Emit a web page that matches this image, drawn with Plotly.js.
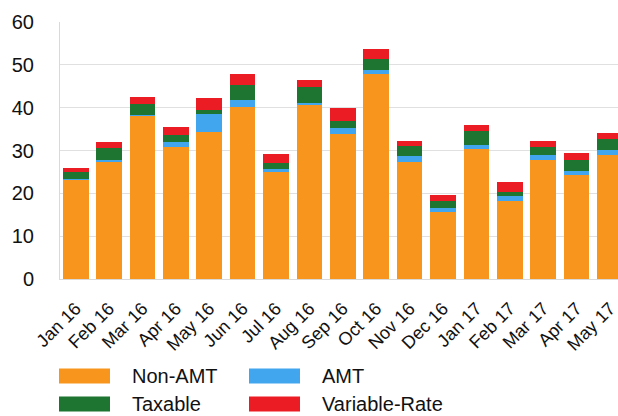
<!DOCTYPE html>
<html>
<head>
<meta charset="utf-8">
<script src="https://cdn.plot.ly/plotly-3.0.1.min.js"></script>
<style>
  html, body { margin: 0; padding: 0; background: #ffffff; }
  #chart { width: 618px; height: 416px; }
</style>
</head>
<body>
<div id="chart"></div>
<script>
// ---- Data ----
const months = ["Jan 16", "Feb 16", "Mar 16", "Apr 16", "May 16", "Jun 16", "Jul 16", "Aug 16",
                "Sep 16", "Oct 16", "Nov 16", "Dec 16", "Jan 17", "Feb 17", "Mar 17", "Apr 17", "May 17"];
const nonAMT       = [23.2, 27.3, 38.0, 30.9, 34.3, 40.1, 25.0, 40.6, 33.9, 47.9, 27.3, 15.7, 30.4, 18.1, 27.7, 24.3, 28.9];
const amt          = [0.2, 0.4, 0.4, 1.1, 4.2, 1.7, 0.7, 0.4, 1.3, 0.8, 1.4, 0.8, 1.0, 1.3, 1.2, 1.0, 1.2];
const taxable      = [1.5, 2.8, 2.45, 1.65, 1.0, 3.6, 1.4, 3.8, 1.7, 2.7, 2.4, 1.7, 3.2, 1.0, 2.0, 2.4, 2.7];
const variableRate = [1.0, 1.4, 1.65, 1.95, 2.7, 2.5, 2.1, 1.7, 3.0, 2.4, 1.1, 1.4, 1.3, 2.3, 1.3, 1.8, 1.3];
const seriesNames  = ["Non-AMT", "AMT", "Taxable", "Variable-Rate"];
const yTicks = [0, 10, 20, 30, 40, 50, 60];

// ---- Styles ----
const colors = ["#F8951D", "#41A6EE", "#1D7531", "#EC1C24"];
const FONT = "Liberation Sans, Arial, sans-serif";
const seriesValues = [nonAMT, amt, taxable, variableRate];

const traces = seriesValues.map((vals, i) => ({
  type: "bar",
  name: seriesNames[i],
  x: months,
  y: vals,
  marker: { color: colors[i], line: { width: 0 } },
  hoverinfo: "x+y+name",
  showlegend: false
}));

// plot area geometry in pixels (for the manual legend placement)
const W = 618, H = 416, L = 60, R = 0, T = 22, B = 137;
const pw = W - L - R, ph = H - T - B;
const px = v => (v - L) / pw;
const py = v => (H - B - v) / ph;

// legend layout: [col x of swatch, row y center]
const legendPos = [[59, 376], [249, 376], [59, 404], [249, 404]];
const legendOrder = [0, 1, 2, 3]; // Non-AMT, AMT, Taxable, Variable-Rate
const shapes = [];
const annotations = [];
legendOrder.forEach((si, k) => {
  const [sx, sy] = legendPos[k];
  shapes.push({
    type: "rect", xref: "paper", yref: "paper",
    x0: px(sx), x1: px(sx + 51), y0: py(sy - 7.5), y1: py(sy + 7.5),
    fillcolor: colors[si], line: { width: 0 }
  });
  annotations.push({
    xref: "paper", yref: "paper", x: px(sx + 71), y: py(sy),
    xanchor: "left", yanchor: "middle", showarrow: false,
    text: seriesNames[si],
    font: { family: FONT, size: 20, color: "#111111" }
  });
});

const layout = {
  width: W, height: H,
  margin: { l: L, r: R, t: T, b: B, pad: 0, autoexpand: false },
  paper_bgcolor: "#ffffff",
  plot_bgcolor: "#ffffff",
  barmode: "stack",
  bargap: 0.233,
  showlegend: false,
  font: { family: FONT, color: "#111111" },
  xaxis: {
    type: "category",
    range: [-0.47, 16.24],
    tickangle: -45,
    tickfont: { family: FONT, size: 18, color: "#111111" },
    showgrid: false,
    showline: true,
    linecolor: "#d9d9d9",
    linewidth: 1,
    ticks: "",
    ticklabelstandoff: 11,
    automargin: false,
    fixedrange: true
  },
  yaxis: {
    range: [0, 60],
    tickvals: yTicks,
    ticktext: yTicks.map(String),
    tickfont: { family: FONT, size: 20, color: "#111111" },
    showgrid: true,
    gridcolor: "#e0e0e0",
    gridwidth: 1,
    zeroline: false,
    showline: true,
    linecolor: "#d9d9d9",
    linewidth: 1,
    ticks: "",
    ticklabelstandoff: 21,
    automargin: false,
    fixedrange: true
  },
  shapes: shapes,
  annotations: annotations
};

Plotly.newPlot("chart", traces, layout, { displayModeBar: false, staticPlot: true });
</script>
</body>
</html>
